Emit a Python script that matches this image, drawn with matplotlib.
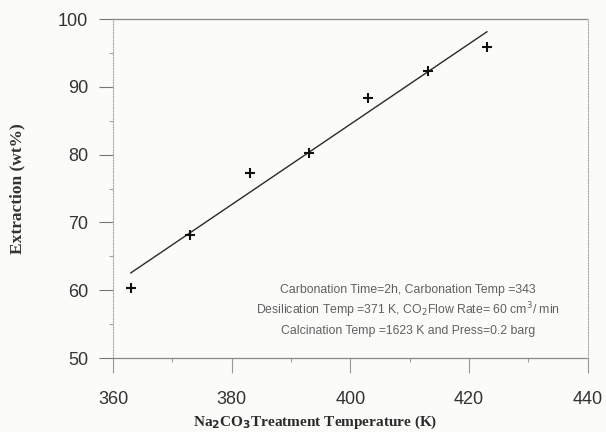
import numpy as np
import matplotlib
matplotlib.use('Agg')
import matplotlib.pyplot as plt
from matplotlib.ticker import MultipleLocator

# Na2CO3 treatment temperature (K) vs. extraction (wt%)
temperature = [363, 373, 383, 393, 403, 413, 423]
extraction = [60.3, 68.1, 77.3, 80.3, 88.3, 92.3, 95.8]

conditions = [
    'Carbonation Time=2h, Carbonation Temp =343',
    'Desilication Temp =371 K, CO$_2$Flow Rate= 60 cm$^3$/ min',
    'Calcination Temp =1623 K and Press=0.2 barg',
]

# linear fit through the measured points
slope, intercept = np.polyfit(temperature, extraction, 1)
fit_x = np.array([temperature[0], temperature[-1]])
fit_y = slope * fit_x + intercept

fig = plt.figure(figsize=(6.06, 4.32), dpi=100)
fig.patch.set_facecolor('#fbfbf9')
ax = fig.add_axes([0.1865, 0.171, 0.7835, 0.785])
ax.set_facecolor('#fbfbf9')

ax.plot(fit_x, fit_y, color='#2a2a2a', lw=1.0)
ax.plot(temperature, extraction, '+', color='#111111', ms=7, mew=1.5)

ax.set_xlim(360, 440)
ax.set_ylim(50, 100)
ax.xaxis.set_major_locator(MultipleLocator(20))
ax.xaxis.set_minor_locator(MultipleLocator(10))
ax.yaxis.set_major_locator(MultipleLocator(10))
ax.yaxis.set_minor_locator(MultipleLocator(5))

ax.tick_params(axis='x', which='major', direction='out', length=11, width=0.8,
               color='#999999', pad=13, labelsize=13, labelcolor='#333333')
ax.tick_params(axis='y', which='major', direction='out', length=10, width=0.8,
               color='#777777', pad=8, labelsize=13, labelcolor='#333333')
ax.tick_params(which='minor', direction='out', length=3, width=0.7, color='#999999')
for lbl in ax.get_xticklabels() + ax.get_yticklabels():
    lbl.set_fontfamily('Liberation Sans')

for side in ('left', 'right'):
    ax.spines[side].set_linestyle((0, (1, 1.5)))
    ax.spines[side].set_color('#aaaaaa')
    ax.spines[side].set_linewidth(0.8)
for side in ('top', 'bottom'):
    ax.spines[side].set_color('#888888')
    ax.spines[side].set_linewidth(0.9)
    ax.spines[side].set_linestyle((0, (4, 1)))

ax.set_xlabel('Na$_\\mathbf{2}$CO$_\\mathbf{3}$Treatment Temperature (K)',
              family='Liberation Serif', weight='bold', size=11, color='#2a2a2a')
ax.xaxis.set_label_coords(0.425, -0.163)
ax.set_ylabel('Extraction (wt%)', family='Liberation Serif', weight='bold',
              size=12.5, color='#333333')
ax.yaxis.set_label_coords(-0.185, 0.5)

for i, line in enumerate(conditions):
    ax.text(409.7, 60.0 - i * 3.0, line, ha='center', va='center',
            family='Liberation Sans', size=8.8, color='#606060')

fig.savefig('out.png', dpi=100, facecolor=fig.get_facecolor())
